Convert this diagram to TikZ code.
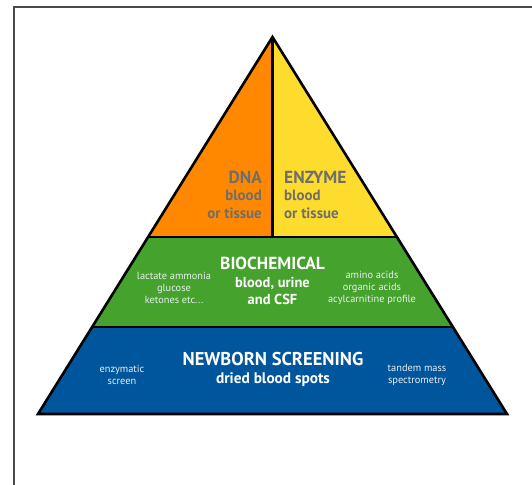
\documentclass[tikz,border=0pt]{standalone}
\usepackage{fontspec}
\setmainfont{PT Sans}
\definecolor{dnaorange}{HTML}{FF8800}
\definecolor{enzyellow}{HTML}{FDDC2E}
\definecolor{biogreen}{HTML}{45A22D}
\definecolor{nbsblue}{HTML}{00569D}
\definecolor{labelgray}{HTML}{6E6E6E}
\definecolor{framegray}{HTML}{4A4A4A}
\definecolor{softwhite}{HTML}{E8EEF2}
\begin{document}
\begin{tikzpicture}[x=1bp,y=-1bp,
  outline/.style={draw=black,line width=2.6bp,line join=miter},
  headgray/.style={font=\bfseries\fontsize{17.5}{19}\selectfont,text=labelgray,inner sep=0},
  subgray/.style={font=\bfseries\fontsize{15}{17}\selectfont,text=labelgray,inner sep=0},
  headwhite/.style={font=\bfseries\fontsize{17.5}{19}\selectfont,text=white,inner sep=0},
  subwhite/.style={font=\bfseries\fontsize{14.5}{16}\selectfont,text=white,inner sep=0},
  note/.style={font=\fontsize{10.4}{12}\selectfont,text=softwhite,inner sep=0,align=center}]
\useasboundingbox (0,0) rectangle (532,485);

% frame
\draw[framegray,line width=2bp] (13.5,485) -- (13.5,7.5) -- (532,7.5);

% pyramid corners and tier boundaries
\coordinate (apex) at (272.5,37);
\coordinate (bl) at (38,414);
\coordinate (br) at (507,414);
\coordinate (ul) at (148.1,237);
\coordinate (ur) at (396.9,237);
\coordinate (um) at (272.5,237);
\coordinate (ll) at (92.1,327);
\coordinate (lr) at (452.9,327);

% tiers
\fill[dnaorange] (apex) -- (um) -- (ul) -- cycle;
\fill[enzyellow] (apex) -- (um) -- (ur) -- cycle;
\fill[biogreen] (ul) -- (ur) -- (lr) -- (ll) -- cycle;
\fill[nbsblue] (ll) -- (lr) -- (br) -- (bl) -- cycle;

% outlines
\draw[outline] (apex) -- (br) -- (bl) -- cycle;
\draw[outline] (ul) -- (ur);
\draw[outline] (ll) -- (lr);
\draw[outline] (apex) -- (um);

% top tier labels
\node[headgray,anchor=base east] (dna) at (262,184) {DNA};
\node[subgray,anchor=base east] (dnab) at (262,201) {blood};
\node[subgray,anchor=base east] (dnat) at (262,218) {or tissue};
\node[headgray,anchor=base west] (enz) at (284,184) {ENZYME};
\node[subgray,anchor=base west] (enzb) at (284,201) {blood};
\node[subgray,anchor=base west] (enzt) at (284,218) {or tissue};

% biochemical tier
\node[headwhite,anchor=base] (bio) at (272.5,269) {BIOCHEMICAL};
\node[subwhite,anchor=base] (bio1) at (272.5,287) {blood, urine};
\node[subwhite,anchor=base] (bio2) at (272.5,304) {and CSF};
\node[note] (bioL) at (174,288) {lactate ammonia\\glucose\\ketones etc...};
\node[note] (bioR) at (372,288) {amino acids\\organic acids\\acylcarnitine profile};

% newborn screening tier
\node[headwhite,font=\bfseries\fontsize{18.6}{20}\selectfont,anchor=base] (nbs) at (273,365) {NEWBORN SCREENING};
\node[subwhite,font=\bfseries\fontsize{15.4}{17}\selectfont,anchor=base] (nbs1) at (273,383) {dried blood spots};
\node[note] (nbsL) at (122,375) {enzymatic\\screen};
\node[note] (nbsR) at (417,375) {tandem mass\\spectrometry};
\end{tikzpicture}
\end{document}
